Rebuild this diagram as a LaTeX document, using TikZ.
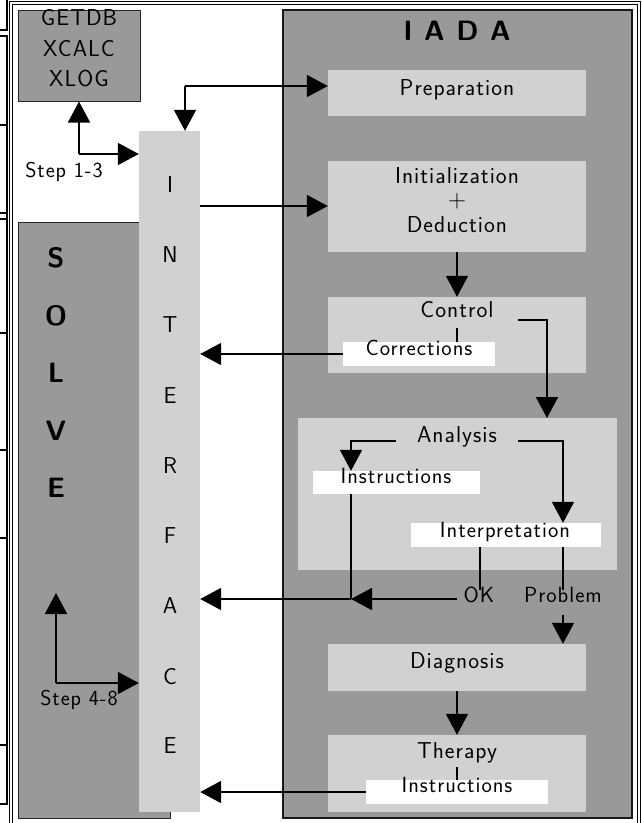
\documentclass[tikz,border=0pt]{standalone}
\usepackage{fontspec}
\setsansfont{Latin Modern Sans}[LetterSpace=4.5]
\usetikzlibrary{arrows.meta}
\definecolor{dkgray}{gray}{0.6}
\definecolor{ltgray}{gray}{0.82}
\definecolor{edge}{gray}{0.15}
\begin{document}
\begin{tikzpicture}[x=1pt,y=-1pt,
  font=\sffamily\fontsize{23}{27}\selectfont,
  arr/.style={line width=1.8pt, -{Triangle[length=21pt,width=22pt]}},
  ln/.style={line width=1.8pt},
  frame/.style={line width=0.9pt},
  dkbox/.style={draw=edge, line width=1pt, fill=dkgray, inner sep=0pt},
  ltbox/.style={fill=ltgray, inner sep=0pt},
  wbox/.style={fill=white, inner sep=0pt},
  txt/.style={inner sep=0pt, anchor=base},
  smalltxt/.style={inner sep=0pt, anchor=base, font=\sffamily\fontsize{22}{26}\selectfont},
  steptxt/.style={inner sep=0pt, anchor=base, font=\sffamily\fontsize{21.5}{25}\selectfont},
  bigtxt/.style={inner sep=0pt, anchor=base, font=\sffamily\bfseries\fontsize{28}{32}\selectfont},
  ifl/.style={inner sep=0pt, anchor=base, font=\sffamily\fontsize{23}{27}\selectfont},
]
\useasboundingbox (0,0) rectangle (641,823);
\fill[white] (0,0) rectangle (641,823);

% outer double frame
\draw[frame] (9,823) -- (9,1.5) -- (640,1.5) -- (640,823);
\draw[frame] (12,823) -- (12,4.5) -- (637,4.5) -- (637,823);

% left-edge fragments
\draw[line width=1.3pt] (0,30) -- (7,30) -- (7,0);
\draw[line width=1.3pt] (0,36) -- (7,36) -- (7,804) -- (0,804);
\foreach \yy in {125,213,333,450,538,745} \draw[line width=1.3pt] (0,\yy) -- (7,\yy);
\draw[line width=2pt] (0,219) -- (7,219);

% boxes
\node[dkbox, minimum width=122pt, minimum height=91pt] (getdb) at (79,55.5) {};
\node[dkbox, minimum width=152pt, minimum height=596pt] (solve) at (94,520) {};
\node[ltbox, minimum width=61pt, minimum height=681pt] (iface) at (169.5,471.5) {};
\node[dkbox, draw=black!90, line width=2pt, minimum width=349pt, minimum height=808pt] (iada) at (457.5,414) {};

\node[ltbox, minimum width=258pt, minimum height=46pt] (prep) at (457,93) {};
\node[ltbox, minimum width=258pt, minimum height=91pt] (init) at (457,206) {};
\node[ltbox, minimum width=258pt, minimum height=76pt] (control) at (457,335) {};
\node[wbox, minimum width=152pt, minimum height=24pt] (corr) at (419,354) {};
\node[ltbox, minimum width=319pt, minimum height=152pt] (analysis) at (457.5,494) {};
\node[wbox, minimum width=167pt, minimum height=23pt] (instr1) at (396.5,482.5) {};
\node[wbox, minimum width=190pt, minimum height=24pt] (interp) at (506,535) {};
\node[ltbox, minimum width=258pt, minimum height=47pt] (diag) at (457,667.5) {};
\node[ltbox, minimum width=258pt, minimum height=77pt] (therapy) at (457,773.5) {};
\node[wbox, minimum width=182pt, minimum height=24pt] (instr2) at (457,792) {};

% texts
\node[txt] (tg1) at (79,25) {GETDB};
\node[txt] (tg2) at (79,56) {XCALC};
\node[txt] (tg3) at (79,86) {XLOG};
\node[steptxt] (st1) at (64,177) {Step 1-3};
\node[steptxt] (st2) at (79,705) {Step 4-8};

\node[bigtxt] (s1) at (56,267) {S};
\node[bigtxt] (s2) at (56,325) {O};
\node[bigtxt] (s3) at (56,382) {L};
\node[bigtxt] (s4) at (56,440) {V};
\node[bigtxt] (s5) at (56,497) {E};

\node[ifl] (i1) at (170,192) {I};
\node[ifl] (i2) at (170,262) {N};
\node[ifl] (i3) at (170,332) {T};
\node[ifl] (i4) at (170,403) {E};
\node[ifl] (i5) at (170,473) {R};
\node[ifl] (i6) at (170,543) {F};
\node[ifl] (i7) at (170,613) {A};
\node[ifl] (i8) at (170,684) {C};
\node[ifl] (i9) at (170,753) {E};

\node[bigtxt] (tiada) at (457,40) {I A D A};
\node[txt] (tprep) at (457,95) {Preparation};
\node[txt] (tinit1) at (457,183) {Initialization};
\node[txt] (tinit2) at (457,207) {$+$};
\node[txt] (tinit3) at (457,232) {Deduction};
\node[txt] (tctl) at (457,317) {Control};
\node[smalltxt] (tcorr) at (419,355) {Corrections};
\node[txt] (tana) at (457,442) {Analysis};
\node[smalltxt] (tins1) at (396,483) {Instructions};
\node[smalltxt] (tint) at (505,537) {Interpretation};
\node[smalltxt] (tok) at (479,602) {OK};
\node[smalltxt] (tprob) at (563,602) {Problem};
\node[txt] (tdiag) at (457,668) {Diagnosis};
\node[txt] (tther) at (457,758) {Therapy};
\node[smalltxt] (tins2) at (457,792) {Instructions};

% connectors
\coordinate (c1) at (79,154);
\draw[arr] (c1) -- (getdb.south);
\draw[arr] (c1) -- (c1 -| iface.west);

\coordinate (c2) at (185,86);
\draw[arr] (c2) -- (c2 |- iface.north);
\draw[arr] (c2) -- (c2 -| prep.west);

\draw[arr] (iface.east |- init.west) -- (init.west);
\draw[arr] (init.south) -- (control.north);

\coordinate (t1) at (457,328);
\draw[ln] (t1) -- (t1 |- corr.north);
\draw[arr] (corr.west) -- (corr.west -| iface.east);

\coordinate (c3) at (518,320);
\coordinate (a3) at (547,418);
\draw[arr] (c3) -| (a3);

\coordinate (j1) at (351,599);
\coordinate (c4) at (396,441);
\draw[arr] (c4) -| (instr1.north -| j1);
\draw[ln] (instr1.south -| j1) -- (j1);

\coordinate (p1) at (563,590);
\coordinate (c5) at (518,441);
\draw[arr] (c5) -| (interp.north -| p1);
\draw[ln] (interp.south -| p1) -- (p1);

\coordinate (ok1) at (480,590);
\draw[ln] (interp.south -| ok1) -- (ok1);
\coordinate (ok2) at (457,599);
\draw[arr] (ok2) -- (j1);
\draw[arr] (j1) -- (j1 -| iface.east);

\coordinate (p2) at (563,615);
\draw[arr] (p2) -- (diag.north -| p2);
\draw[arr] (diag.south) -- (therapy.north);

\coordinate (t2) at (457,767);
\draw[ln] (t2) -- (instr2.north);
\draw[arr] (instr2.west) -- (instr2.west -| iface.east);

\coordinate (c6) at (56,683);
\coordinate (c6t) at (56,593);
\draw[arr] (c6) -- (c6t);
\draw[arr] (c6) -- (c6 -| iface.west);
\end{tikzpicture}
\end{document}
